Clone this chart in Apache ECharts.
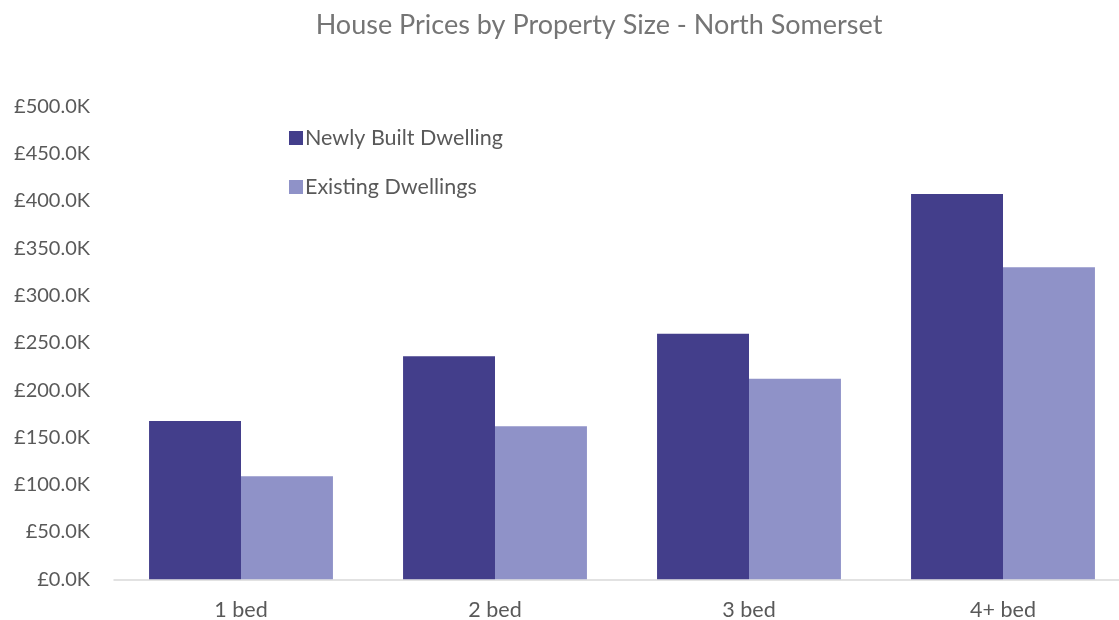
<!DOCTYPE html>
<html><head><meta charset="utf-8">
<script src="https://cdn.jsdelivr.net/npm/echarts@6/dist/echarts.min.js"></script>
<style>html,body{margin:0;padding:0;background:#fff}#c{width:1119px;height:620px}</style>
</head><body><div id="c"></div>
<script>
const categories = ['1 bed', '2 bed', '3 bed', '4+ bed'];
const newlyBuilt = [167.3, 235.7, 259.6, 407.3];
const existing = [108.9, 161.7, 212.0, 329.8];
const seriesNames = ['Newly Built Dwelling', 'Existing Dwellings'];

const chart = echarts.init(document.getElementById('c'), null, {renderer: 'canvas'});
chart.setOption({
  animation: false,
  backgroundColor: '#fff',
  title: {
    text: 'House Prices by Property Size - North Somerset',
    left: 594, top: 7, textAlign: 'center',
    textStyle: {fontFamily: 'Lato', fontSize: 27, fontWeight: 'normal', color: '#757575'}
  },
  legend: {
    orient: 'vertical', left: 284, top: 122, itemGap: 27,
    itemWidth: 14, itemHeight: 14, icon: 'rect',
    textStyle: {fontFamily: 'Lato', fontSize: 21.5, color: '#595959', padding: [0,0,0,-3]},
    data: seriesNames
  },
  grid: {left: 114, top: 106.3, width: 1016, bottom: 40.7, containLabel: false, outerBoundsMode: 'none'},
  xAxis: {
    type: 'category', data: categories,
    axisLine: {lineStyle: {color: '#d9d9d9', width: 1.5}},
    axisTick: {show: false},
    axisLabel: {fontFamily: 'Lato', fontSize: 21.5, color: '#595959', margin: 20}
  },
  yAxis: {
    type: 'value', min: 0, max: 500, interval: 50,
    splitLine: {show: false}, axisLine: {show: false}, axisTick: {show: false},
    axisLabel: {fontFamily: 'Lato', fontSize: 20, color: '#595959', margin: 24,
      formatter: v => '£' + v.toFixed(1) + 'K'}
  },
  series: [
    {name: seriesNames[0], type: 'bar', data: newlyBuilt, barGap: '0%', barCategoryGap: '27.6%',
      itemStyle: {color: '#433E8B'}},
    {name: seriesNames[1], type: 'bar', data: existing, barGap: '0%', barCategoryGap: '27.6%',
      itemStyle: {color: '#8F92C8'}}
  ]
});
</script></body></html>
